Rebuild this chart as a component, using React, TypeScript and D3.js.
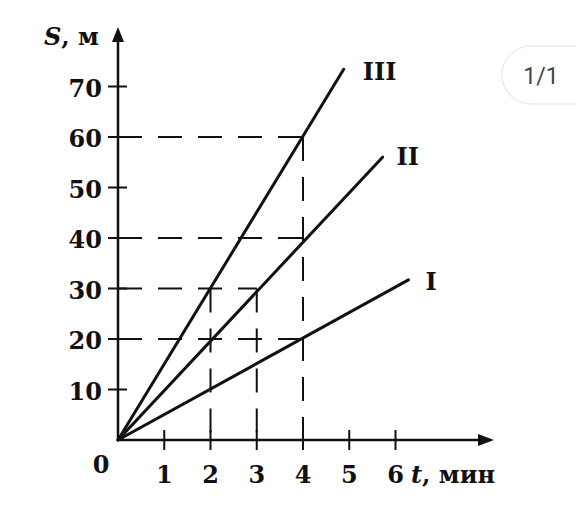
import React from "react";
import * as d3 from "d3";

const xTicks = [1, 2, 3, 4, 5, 6];
const yTicks = [10, 20, 30, 40, 50, 60, 70];
const seriesNames = ["I", "II", "III"];
const seriesEndT = [6.28, 5.72, 4.88];
const seriesEndS = [31.7, 56, 73.4];
const hGuideS = [60, 40, 30, 20];
const hGuideT = [4, 4, 3, 4];
const vGuideT = [4, 3, 2];
const vGuideS = [60, 30, 30];

const W = 576;
const H = 524;
const FONT = "'DejaVu Serif', 'Liberation Serif', serif";

export default function App() {
  const x = d3.scaleLinear().domain([0, 6]).range([118, 395.5]);
  const y = d3.scaleLinear().domain([0, 70]).range([440, 86.5]);
  const x0 = x(0);
  const y0 = y(0);
  const line = d3.line<[number, number]>().x((d) => x(d[0])).y((d) => y(d[1]));
  const labelOff: Record<string, [number, number]> = { I: [17, 10], II: [14, 8], III: [19, 11] };
  const txt = { fontFamily: FONT, fontSize: 24, fontWeight: "bold", fill: "#111" } as const;

  return (
    <svg width={W} height={H} style={{ position: "absolute", left: 0, top: 0, background: "#fff" }}>
      <rect width={W} height={H} fill="#fff" />
      {/* pill badge */}
      <rect x={502} y={46} width={100} height={58} rx={29} fill="#fff" stroke="#ececec" strokeWidth={1.5} />
      <text x={541} y={84} textAnchor="middle" fontFamily="Roboto, 'Open Sans', sans-serif" fontSize={23} fill="#444">1/1</text>

      {/* dashed guides */}
      {hGuideS.map((s, i) => (
        <path key={"h" + i} d={`M${x0},${y(s)}H${x(hGuideT[i])}`} stroke="#111" strokeWidth={2} strokeDasharray="24 16" fill="none" />
      ))}
      {vGuideT.map((t, i) => (
        <path key={"v" + i} d={`M${x(t)},${y(vGuideS[i])}V${y0 + 2}`} stroke="#111" strokeWidth={2} strokeDasharray="24 16" fill="none" />
      ))}

      {/* axes */}
      <line x1={x0} y1={y0} x2={x0} y2={38} stroke="#111" strokeWidth={2.5} />
      <path d={`M${x0},27 L${x0 - 6},42 L${x0 + 6},42 Z`} fill="#111" />
      <line x1={x0} y1={y0} x2={482} y2={y0} stroke="#111" strokeWidth={2.5} />
      <path d={`M494,${y0} L478,${y0 - 6} L478,${y0 + 6} Z`} fill="#111" />

      {yTicks.map((v) => (
        <g key={"yt" + v}>
          <line x1={x0 - 10} x2={x0 + 9} y1={y(v)} y2={y(v)} stroke="#111" strokeWidth={2} />
          <text x={102} y={y(v) + 10} textAnchor="end" {...txt}>{v}</text>
        </g>
      ))}
      {xTicks.map((v) => (
        <g key={"xt" + v}>
          <line x1={x(v)} x2={x(v)} y1={y0 - 10} y2={y0 + 10} stroke="#111" strokeWidth={2} />
          <text x={x(v)} y={483} textAnchor="middle" {...txt}>{v}</text>
        </g>
      ))}
      <text x={101} y={473} textAnchor="middle" {...txt}>0</text>

      {/* axis labels */}
      <text x={44} y={45} {...txt}>
        <tspan fontStyle="italic">S</tspan>, м
      </text>
      <text x={411} y={483} {...txt}>
        <tspan fontStyle="italic">t</tspan>, мин
      </text>

      {/* series lines */}
      {seriesNames.map((n, i) => {
        const pts: [number, number][] = [[0, 0], [seriesEndT[i], seriesEndS[i]]];
        const [dx, dy] = labelOff[n];
        return (
          <g key={n}>
            <path d={line(pts) || ""} stroke="#111" strokeWidth={3} fill="none" strokeLinecap="round" />
            <text x={x(seriesEndT[i]) + dx} y={y(seriesEndS[i]) + dy} {...txt}>{n}</text>
          </g>
        );
      })}
    </svg>
  );
}
